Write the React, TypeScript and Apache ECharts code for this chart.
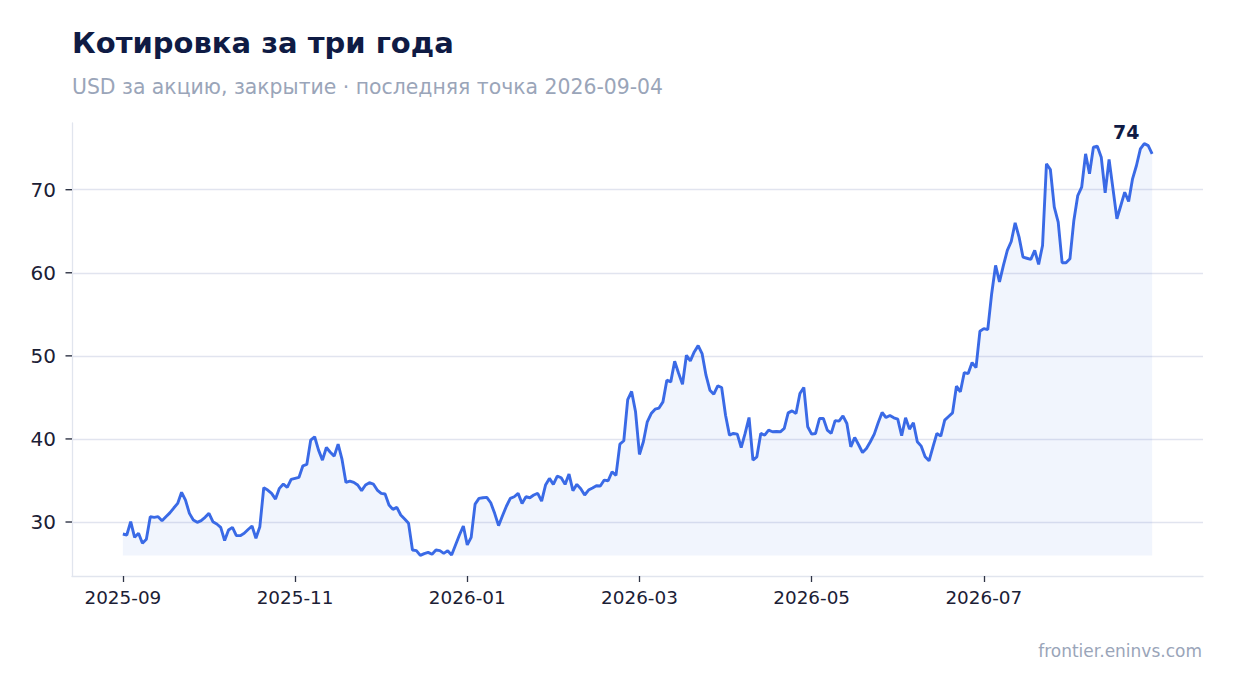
import { useEffect, useRef } from 'react';
import * as echarts from 'echarts';

// первый торговый день ряда, дальше только будни
const startDate = '2025-09-02';

// цены закрытия по кускам (USD)
const closeSepOct = [
  28.56, 28.44, 30.04, 28.16, 28.64, 27.44, 27.92, 30.64, 30.56, 30.64,
  30.16, 30.64, 31.1, 31.68, 32.24, 33.57, 32.64, 31.04, 30.24, 29.96,
  30.16, 30.56, 31.04, 30.04, 29.76, 29.36, 27.76, 29.04, 29.36, 28.36,
  28.36, 28.64, 29.1, 29.52, 28.04, 29.44, 34.13, 33.85, 33.45, 32.76,
  34.05, 34.57, 34.17, 35.13
];
const closeNovDec = [
  35.25, 35.37, 36.77, 36.93, 39.86, 40.26, 38.65, 37.45, 38.97, 38.4,
  37.93, 39.38, 37.53, 34.77, 34.93, 34.77, 34.45, 33.77, 34.45, 34.73,
  34.57, 33.85, 33.45, 33.37, 32.04, 31.52, 31.76, 30.84, 30.36, 29.84,
  26.63, 26.55, 25.98, 26.2, 26.35, 26.11, 26.63, 26.55, 26.23, 26.55,
  26.03, 27.24, 28.44, 29.52
];
const closeJanFeb = [
  27.24, 28.16, 32.16, 32.84, 32.92, 32.96, 32.32, 31.04, 29.56, 30.76,
  31.9, 32.84, 33.04, 33.45, 32.24, 33.04, 32.92, 33.25, 33.45, 32.52,
  34.45, 35.25, 34.53, 35.53, 35.33, 34.53, 35.77, 33.77, 34.53, 34.0,
  33.25, 33.85, 34.1, 34.37, 34.33, 35.05, 34.97, 36.05, 35.61, 39.38,
  39.78, 44.74, 45.71, 43.26
];
const closeMarApr = [
  38.13, 39.66, 42.06, 43.06, 43.58, 43.72, 44.46, 47.07, 46.87, 49.35,
  47.9, 46.59, 50.07, 49.39, 50.47, 51.23, 50.27, 47.67, 45.87, 45.38,
  46.39, 46.19, 42.86, 40.46, 40.66, 40.58, 38.97, 40.66, 42.58, 37.45,
  37.85, 40.66, 40.46, 41.06, 40.86, 40.9, 40.86, 41.26, 43.14, 43.38,
  43.06, 45.46, 46.19, 41.46
];
const closeMayJun = [
  40.58, 40.66, 42.46, 42.46, 41.06, 40.66, 42.2, 42.14, 42.78, 41.86,
  39.05, 40.18, 39.3, 38.37, 38.85, 39.66, 40.58, 41.94, 43.18, 42.58,
  42.82, 42.54, 42.38, 40.38, 42.54, 41.18, 41.94, 39.66, 39.13, 37.85,
  37.37, 39.05, 40.66, 40.34, 42.26, 42.7, 43.14, 46.35, 45.67, 47.99,
  47.87, 49.19, 48.59, 52.96
];
const closeJulSep = [
  53.28, 53.16, 57.48, 60.89, 58.9, 60.89, 62.69, 63.77, 66.02, 64.29,
  61.89, 61.75, 61.61, 62.69, 61.01, 63.29, 73.11, 72.43, 67.9, 66.1,
  61.21, 61.21, 61.69, 66.3, 69.3, 70.3, 74.31, 71.91, 75.11, 75.23,
  73.91, 69.62, 73.63, 70.1, 66.5, 68.1, 69.7, 68.58, 71.31, 72.91,
  74.91, 75.55, 75.31, 74.31
];

const yTicks = [30, 40, 50, 60, 70];

const close = [
  ...closeSepOct, ...closeNovDec, ...closeJanFeb,
  ...closeMarApr, ...closeMayJun, ...closeJulSep
];

const PAD = 13; // поля по краям оси X, как 5% у matplotlib
const LABEL_EVERY = 44;
const GRID_LEFT = 72;

const businessDays = (start: string, count: number) => {
  const out: string[] = [];
  const d = new Date(start + 'T00:00:00Z');
  while (out.length < count) {
    const wd = d.getUTCDay();
    if (wd !== 0 && wd !== 6) out.push(d.toISOString().slice(0, 10));
    d.setUTCDate(d.getUTCDate() + 1);
  }
  return out;
};

const TITLE_COLOR = '#0f1b44';
const MUTED = '#9aa5b9';
const LINE_COLOR = '#3a6ae6';
const AXIS_COLOR = '#e1e5ee';
const TICK_COLOR = '#2e3445';
const LABEL_COLOR = '#1b2035';
const FONT = 'DejaVu Sans';

const App = () => {
  const chartRef = useRef<HTMLDivElement>(null);

  useEffect(() => {
    if (!chartRef.current) return;
    const chart = echarts.init(chartRef.current, undefined, { renderer: 'svg' });

    const dates = businessDays(startDate, close.length);
    const categories = [
      ...Array.from({ length: PAD }, (_, i) => `l${i}`),
      ...dates,
      ...Array.from({ length: PAD }, (_, i) => `r${i}`)
    ];
    const lo = Math.min(...close);
    const hi = Math.max(...close);
    const span = hi - lo;
    const last = close[close.length - 1];

    const isTickIdx = (i: number) => {
      const k = i - PAD;
      return k >= 0 && k < close.length && k % LABEL_EVERY === 0;
    };

    const texts: any[] = [
      {
        type: 'text',
        x: 72,
        y: 43,
        style: {
          text: 'Котировка за три года',
          fontFamily: FONT,
          fontSize: 29,
          fontWeight: 'bold',
          fill: TITLE_COLOR,
          align: 'left',
          verticalAlign: 'middle'
        }
      },
      {
        type: 'text',
        x: 72,
        y: 87,
        style: {
          text: 'USD за акцию, закрытие · последняя точка ' + dates[dates.length - 1],
          fontFamily: FONT,
          fontSize: 20.4,
          fill: MUTED,
          align: 'left',
          verticalAlign: 'middle'
        }
      },
      {
        type: 'text',
        x: 1202,
        y: 651,
        style: {
          text: 'frontier.eninvs.com',
          fontFamily: FONT,
          fontSize: 17,
          fill: MUTED,
          align: 'right',
          verticalAlign: 'middle'
        }
      }
    ];

    const option: echarts.EChartsOption = {
      animation: false,
      textStyle: { fontFamily: FONT },
      grid: { left: GRID_LEFT, right: 31, top: 123, bottom: 117 },
      graphic: texts,
      xAxis: {
        type: 'category',
        boundaryGap: false,
        data: categories,
        axisLine: { lineStyle: { color: AXIS_COLOR, width: 1.3 } },
        axisTick: {
          interval: (i: number) => isTickIdx(i),
          length: 6,
          lineStyle: { color: TICK_COLOR, width: 1.3 }
        },
        axisLabel: {
          interval: (i: number) => isTickIdx(i),
          formatter: (v: string) => v.slice(0, 7),
          fontSize: 18.4,
          color: LABEL_COLOR,
          margin: 12
        },
        splitLine: { show: false }
      },
      yAxis: {
        type: 'value',
        min: lo - span * 0.05,
        max: hi + span * 0.05,
        axisLine: { show: true, lineStyle: { color: AXIS_COLOR, width: 1.3 } },
        axisTick: { show: false, customValues: yTicks },
        axisLabel: {
          customValues: yTicks,
          fontSize: 20,
          color: LABEL_COLOR,
          margin: 16
        },
        splitLine: { lineStyle: { color: '#e1e4ef', width: 1.3 } }
      } as any,
      series: [
        {
          type: 'line',
          data: close.map((v, i) => [PAD + i, v]),
          showSymbol: false,
          symbol: 'none',
          lineStyle: { color: LINE_COLOR, width: 2.9 },
          itemStyle: { color: LINE_COLOR },
          areaStyle: { color: 'rgba(59, 108, 230, 0.1)', origin: lo } as any,
          markPoint: {
            symbol: 'circle',
            symbolSize: 1,
            silent: true,
            itemStyle: { color: 'rgba(0,0,0,0)' },
            label: {
              show: true,
              position: 'inside',
              offset: [-26, -22],
              fontSize: 19,
              fontWeight: 'bold',
              color: TITLE_COLOR,
              formatter: '{c}'
            },
            data: [{ coord: [PAD + close.length - 1, last], value: Math.round(last) }]
          }
        }
      ]
    };

    chart.setOption(option);

    // риски оси Y снаружи, по шкале самой оси
    const yTickMarks = yTicks.map((v, i) => {
      const p = chart.convertToPixel({ gridIndex: 0 }, [PAD, v]) as number[];
      return {
        type: 'rect',
        id: 'ytick' + i,
        silent: true,
        z: 10,
        shape: { x: GRID_LEFT - 6.5, y: p[1] - 0.7, width: 6.5, height: 1.4 },
        style: { fill: TICK_COLOR }
      };
    });
    chart.setOption({ graphic: [...texts, ...yTickMarks] });

    const handleResize = () => chart.resize();
    window.addEventListener('resize', handleResize);
    return () => {
      window.removeEventListener('resize', handleResize);
      chart.dispose();
    };
  }, []);

  return (
    <div
      ref={chartRef}
      style={{ position: 'fixed', left: 0, top: 0, width: 1234, height: 693, background: '#fff' }}
    />
  );
};

export default App;
